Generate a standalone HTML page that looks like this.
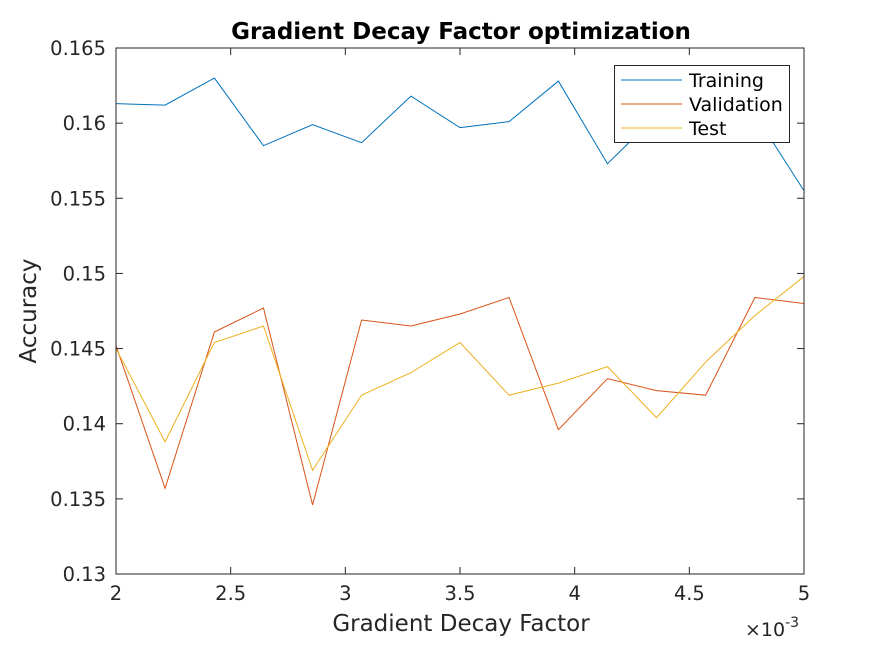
<!DOCTYPE html>
<html><head><meta charset="utf-8"><style>
body{margin:0;background:#fff;}
svg text{font-family:"DejaVu Sans","Liberation Sans",sans-serif;fill:#262626;}
</style></head><body>
<svg id="chart" width="891" height="645" xmlns="http://www.w3.org/2000/svg">
<rect width="891" height="645" fill="#fff"/>
<rect x="116" y="48" width="688" height="526" fill="#fff"/>
<g id="series"></g>
<rect x="116" y="48" width="688" height="526" fill="none" stroke="#262626" stroke-width="1"/>
<g id="ticks"></g>
<text x="461" y="39" text-anchor="middle" font-size="23" font-weight="bold" style="fill:#000">Gradient Decay Factor optimization</text>
<text x="461" y="631" text-anchor="middle" font-size="23">Gradient Decay Factor</text>
<text transform="translate(36,311) rotate(-90)" text-anchor="middle" font-size="23">Accuracy</text>
<text x="745" y="636" font-size="19">×10<tspan dy="-9" font-size="14">-3</tspan></text>
<g>
<rect x="614.5" y="65.5" width="175" height="77" fill="#fff" stroke="#262626"/>
<g id="legend-entries"></g>
</g>
</svg>
<script>
const xValues=[2,2.214,2.429,2.643,2.857,3.071,3.286,3.5,3.714,3.929,4.143,4.357,4.571,4.786,5];
const training=[0.1613,0.1612,0.1630,0.1585,0.1599,0.1587,0.1618,0.1597,0.1601,0.1628,0.1573,0.1605,0.1598,0.1606,0.1555];
const validation=[0.1452,0.1357,0.1461,0.1477,0.1346,0.1469,0.1465,0.1473,0.1484,0.1396,0.1430,0.1422,0.1419,0.1484,0.1480];
const test=[0.1450,0.1388,0.1454,0.1465,0.1369,0.1419,0.1434,0.1454,0.1419,0.1427,0.1438,0.1404,0.1441,0.1472,0.1498];
const xTicks=[2,2.5,3,3.5,4,4.5,5];
const xTickLabels=["2","2.5","3","3.5","4","4.5","5"];
const yTicks=[0.13,0.135,0.14,0.145,0.15,0.155,0.16,0.165];
const yTickLabels=["0.13","0.135","0.14","0.145","0.15","0.155","0.16","0.165"];
const seriesNames=["Training","Validation","Test"];
const seriesColors=["#0072BD","#D95319","#EDB120"];
const X=v=>116+(v-2)/3*688;
const Y=v=>574-(v-0.13)/0.035*526;
const NS="http://www.w3.org/2000/svg";
function mk(t,a){const e=document.createElementNS(NS,t);for(const k in a)e.setAttribute(k,a[k]);return e;}
const tk=document.getElementById('ticks');
xTicks.forEach((v,i)=>{
 const l=mk('line',{x1:X(v),x2:X(v),y1:574,y2:567,stroke:'#262626'});
 
 
 tk.appendChild(l);
 const l2=mk('line',{x1:X(v),x2:X(v),y1:48,y2:55,stroke:'#262626'});
 
 
 tk.appendChild(l2);
 const t=mk('text',{x:X(v),y:600,'text-anchor':'middle','font-size':'19.5'});
 t.textContent=xTickLabels[i];
 
 
 tk.appendChild(t);
});
yTicks.forEach((v,i)=>{
 const l=mk('line',{x1:116,x2:123,y1:Y(v),y2:Y(v),stroke:'#262626'});
 
 
 tk.appendChild(l);
 const l2=mk('line',{x1:797,x2:804,y1:Y(v),y2:Y(v),stroke:'#262626'});
 
 
 tk.appendChild(l2);
 const t=mk('text',{x:106,y:Y(v)+7,'text-anchor':'end','font-size':'19.5'});
 t.textContent=yTickLabels[i];
 
 
 tk.appendChild(t);
});
const sg=document.getElementById('series');
[training,validation,test].forEach((arr,k)=>{
 const p=mk('polyline',{points:arr.map((v,i)=>X(xValues[i])+','+Y(v)).join(' '),fill:'none',stroke:seriesColors[k],'stroke-width':'1'});
 
 
 sg.appendChild(p);
});
const lg=document.getElementById('legend-entries');
seriesNames.forEach((n,k)=>{
 const y=80+k*24;
 const g=mk('g',{});
 
 
 g.appendChild(mk('line',{x1:621,x2:682,y1:y,y2:y,stroke:seriesColors[k]}));
 const t=mk('text',{x:689,y:y+7,'font-size':'19','style':'fill:#000'});
 t.textContent=n;
 g.appendChild(t);
 lg.appendChild(g);
});
</script>
</body></html>
